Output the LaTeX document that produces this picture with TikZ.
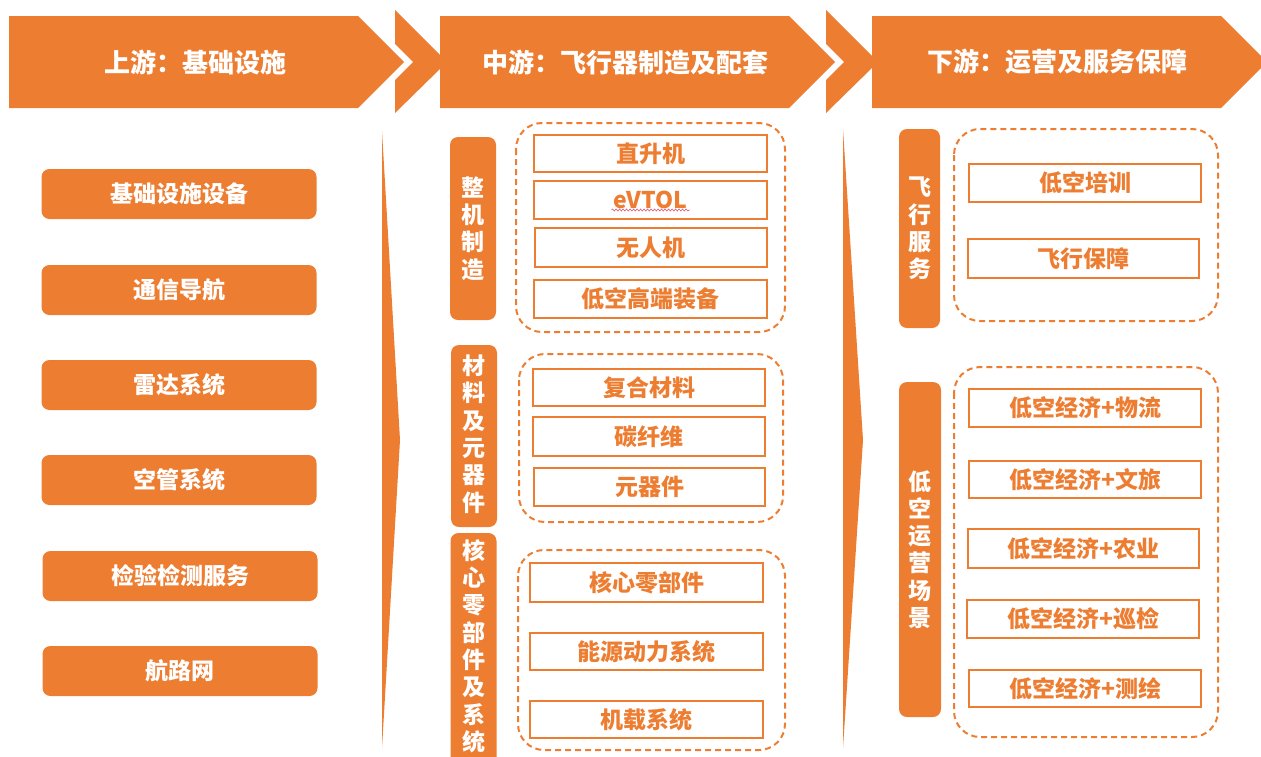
\documentclass[tikz,border=0pt]{standalone}
\usepackage{fontspec}
\newfontfamily\cjk{Noto Sans CJK SC}
\usetikzlibrary{decorations.pathmorphing}
\definecolor{orr}{HTML}{ED7D31}
\definecolor{wavy}{HTML}{E0506A}
\tikzset{
  hdr/.style={fill=orr, draw=none},
  hdrtext/.style={text=white, font=\cjk\bfseries\fontsize{26}{30}\selectfont, inner sep=0},
  lbox/.style={fill=orr, rounded corners=8pt, text=white, font=\cjk\bfseries\fontsize{23}{27}\selectfont,
     minimum width=275pt, minimum height=50pt, inner sep=0},
  vbox/.style={fill=orr, rounded corners=8pt, minimum width=46pt, inner sep=0},
  vtext/.style={text=white, font=\cjk\bfseries\fontsize{23}{27.3}\selectfont, align=center, inner sep=0},
  ibox/.style={draw=orr, line width=1.4pt, fill=white, text=orr,
     font=\cjk\bfseries\fontsize{23}{27}\selectfont, inner sep=0},
  grp/.style={draw=orr, line width=2pt, dash pattern=on 6pt off 4pt, rounded corners=26pt},
  wedge/.style={fill=orr, draw=none},
}
\newcommand\ibx[6]{\node[ibox, minimum width={(#4-#2)*1pt}, minimum height={(#5-#3)*1pt}]
   (#1) at ({(#2+#4)/2},{(#3+#5)/2}) {#6};}
\begin{document}
\begin{tikzpicture}[x=1pt,y=-1pt]
\useasboundingbox (0,0) rectangle (1261,756);
% headers
\fill[hdr] (9,16) -- (358,16) -- (404,62) -- (358,108) -- (9,108) -- cycle;
\fill[hdr] (395,10) -- (442,57) -- (442,67) -- (395,113) -- (395,80) -- (413,62) -- (395,44) -- cycle;
\fill[hdr] (440,16) -- (789,16) -- (835,62) -- (789,108) -- (440,108) -- cycle;
\fill[hdr] (826,10) -- (874,58) -- (874,66) -- (826,113) -- (826,80) -- (844,62) -- (826,44) -- cycle;
\fill[hdr] (872,16) -- (1221,16) -- (1267,62) -- (1221,108) -- (872,108) -- cycle;
\node[hdrtext] (h1) at (195,62) {上游：基础设施};
\node[hdrtext] (h2) at (625,62) {中游：飞行器制造及配套};
\node[hdrtext] (h3) at (1057,62) {下游：运营及服务保障};
% wedges
\fill[wedge] (382,131) -- (400,440) -- (382,748) -- cycle;
\fill[wedge] (843,129) -- (863,440) -- (843,748) -- cycle;
% left column
\node[lbox] (a1) at (179,194) {基础设施设备};
\node[lbox] (a2) at (179,290) {通信导航};
\node[lbox] (a3) at (179,385) {雷达系统};
\node[lbox] (a4) at (179,480) {空管系统};
\node[lbox] (a5) at (180,576) {检验检测服务};
\node[lbox] (a6) at (180,671) {航路网};
% middle column: vertical labels
\node[vbox, minimum height=183pt] (m1) at (473,228.5) {};
\node[vtext] (m1t) at (473,228.5) {整\\机\\制\\造};
\node[vbox, minimum height=182pt] (m2) at (474,436) {};
\node[vtext] (m2t) at (474,434) {材\\料\\及\\元\\器\\件};
\node[vbox, minimum height=250pt] (m3) at (473.5,658) {};
\node[vtext] (m3t) at (473.5,646) {核\\心\\零\\部\\件\\及\\系\\统};
% middle groups
\draw[grp] (516,123) rectangle (785,332);
\draw[grp] (519,354) rectangle (783,522);
\draw[grp] (518,550) rectangle (785,750);
\ibx{b1}{534}{135}{767}{172}{直升机}
\ibx{b2}{534}{181}{767}{219}{eVTOL}
\ibx{b3}{535}{228}{767}{267}{无人机}
\ibx{b4}{534}{280}{767}{318}{低空高端装备}
\draw[wavy, line width=0.6pt, decorate, decoration={snake, amplitude=1pt, segment length=3.5pt}]
   ([xshift=-39pt,yshift=-10pt]b2.center) -- ([xshift=39pt,yshift=-10pt]b2.center);
\ibx{c1}{533}{369}{765}{406}{复合材料}
\ibx{c2}{533}{417}{765}{456}{碳纤维}
\ibx{c3}{534}{468}{765}{506}{元器件}
\ibx{d1}{530}{563}{763}{602}{核心零部件}
\ibx{d2}{530}{633}{763}{670}{能源动力系统}
\ibx{d3}{530}{701}{763}{738}{机载系统}
% right column
\node[vbox, minimum width=41pt, minimum height=199pt] (r1) at (919.5,228.5) {};
\node[vtext] (r1t) at (919.5,228.5) {飞\\行\\服\\务};
\node[vbox, minimum width=42pt, minimum height=335pt] (r2) at (920,549.5) {};
\node[vtext] (r2t) at (920,549.5) {低\\空\\运\\营\\场\\景};
\draw[grp] (954,129) rectangle (1218,321);
\draw[grp] (954,367) rectangle (1218,737);
\ibx{e1}{969}{164}{1201}{202}{低空培训}
\ibx{e2}{968}{239}{1199}{278}{飞行保障}
\ibx{f1}{969}{389}{1201}{427}{低空经济+物流}
\ibx{f2}{969}{461}{1201}{498}{低空经济+文旅}
\ibx{f3}{968}{529}{1199}{568}{低空经济+农业}
\ibx{f4}{967}{600}{1199}{638}{低空经济+巡检}
\ibx{f5}{969}{670}{1201}{707}{低空经济+测绘}
\end{tikzpicture}
\end{document}
